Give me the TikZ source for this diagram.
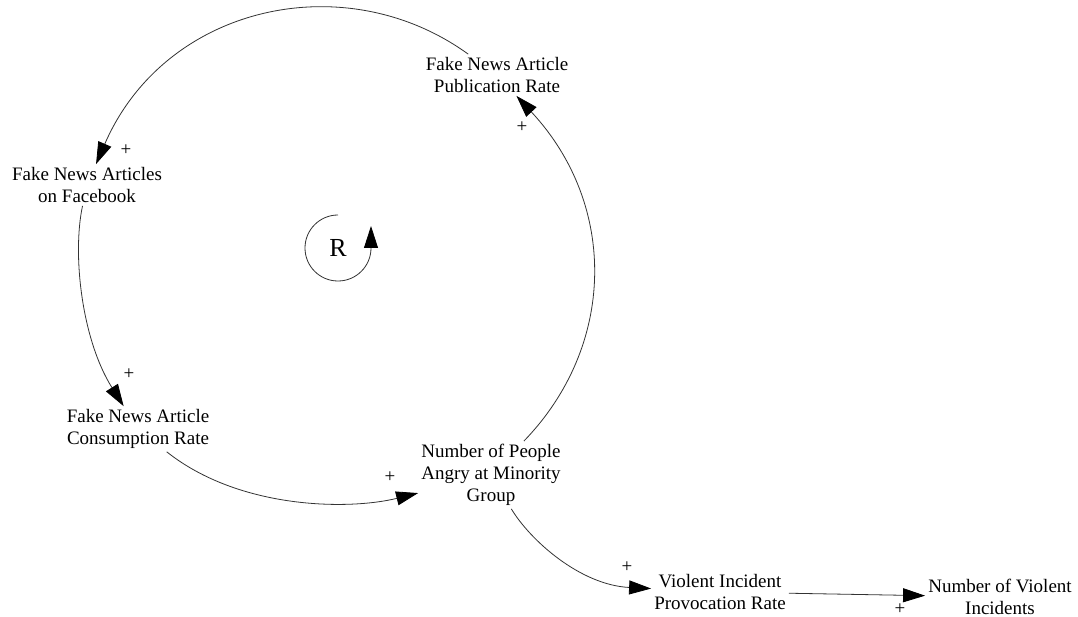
\documentclass[tikz,border=0pt]{standalone}
\usepackage{fontspec}
\setmainfont{Liberation Serif}
\usetikzlibrary{arrows.meta}
\begin{document}
\begin{tikzpicture}[x=1pt,y=-1pt,
  var/.style={font=\fontsize{19}{22}\selectfont, align=center, inner sep=3pt},
  pol/.style={font=\fontsize{19}{22}\selectfont, inner sep=0pt},
  link/.style={draw=black!80, line width=0.8pt, -{Triangle[length=22pt,width=14pt,color=black]}},
]
\useasboundingbox (0,0) rectangle (1078,617);
\node[var] (pub) at (497,75) {Fake News Article\\Publication Rate};
\node[var] (fb) at (87,185) {Fake News Articles\\on Facebook};
\node[var] (cons) at (138,429) {Fake News Article\\Consumption Rate};
\node[var] (angry) at (491,475) {Number of People\\Angry at Minority\\Group};
\node[var] (viol) at (720,592) {Violent Incident\\Provocation Rate};
\node[var] (numv) at (1000,597) {Number of Violent\\Incidents};
\node[font=\fontsize{26}{30}\selectfont, inner sep=0pt] (loop) at (338,248) {R};

\draw[link] (pub) .. controls (345,-35) and (165,5) .. (fb);
\draw[link] (fb) .. controls (72,255) and (82,340) .. (cons);
\draw[link] (cons) .. controls (240,510) and (350,510) .. (angry);
\draw[link] (angry) .. controls (616,346) and (618,205) .. (pub);
\draw[link] (angry) .. controls (530,540) and (580,585) .. (viol);
\draw[link] (viol) -- (numv);
\draw[link] ([yshift=33pt]loop.center) arc[start angle=270, end angle=0, radius=33] -- ++(0,-22);

\node[pol] (p1) at (126,150) {+};
\node[pol] (p2) at (129,374) {+};
\node[pol] (p3) at (390,477) {+};
\node[pol] (p4) at (522,127) {+};
\node[pol] (p5) at (627,567) {+};
\node[pol] (p6) at (900,609) {+};
\end{tikzpicture}
\end{document}
